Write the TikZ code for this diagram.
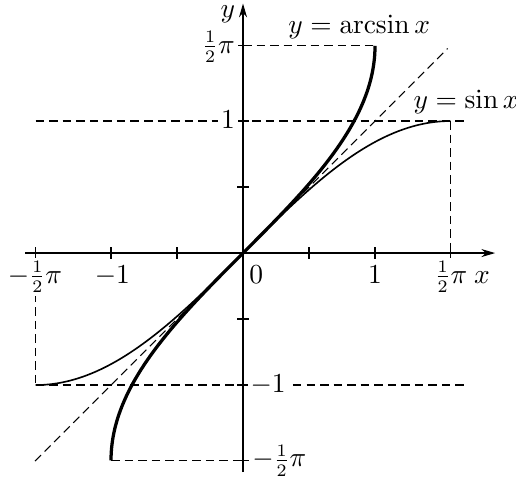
\documentclass[tikz,border=0pt]{standalone}
\usetikzlibrary{arrows.meta}
\begin{document}
\begin{tikzpicture}[x=1.85cm,y=1.85cm,
  axisline/.style={line width=0.5pt},
  dashline/.style={line width=0.45pt,dash pattern=on 3.4pt off 2pt},
  thincurve/.style={line width=0.65pt},
  thickcurve/.style={line width=1.3pt},
  lbl/.style={anchor=base,inner sep=1.2pt,fill=white,font=\fontsize{10.6pt}{12.7pt}\selectfont},
  arrowtip/.style={-{Stealth[length=5.5pt,width=3.2pt]}}]
\useasboundingbox (-1.841,-1.712) rectangle (2.068,1.917);
% key points
\coordinate (O) at (0,0);
\coordinate (xl) at (-1.65,0);
\coordinate (xr) at (1.91,0);
\coordinate (yb) at (0,-1.66);
\coordinate (yt) at (0,1.89);
\coordinate (Ahp) at (0,1.5708);
\coordinate (Atop) at (1,1.5708);
\coordinate (Abot) at (-1,-1.5708);
\coordinate (Amhp) at (0,-1.5708);
\coordinate (S1l) at (-1.5708,1);
\coordinate (S1r) at (1.705,1);
\coordinate (Sm1l) at (-1.5708,-1);
\coordinate (Sm1r) at (1.705,-1);
\coordinate (Stop) at (1.5708,1);
\coordinate (Xhp) at (1.5708,0);
\coordinate (Xmhp) at (-1.5708,0);
\coordinate (Dl) at (-1.576,-1.576);
\coordinate (Dr) at (1.55,1.55);
% dashed guides
\draw[dashline] (Ahp) -- (Atop);
\draw[dashline] (S1l) -- (S1r);
\draw[dashline] (Sm1l) -- (Sm1r);
\draw[dashline] (Stop) -- (Xhp);
\draw[dashline] (Xmhp) -- (Sm1l);
\draw[dashline] (Abot) -- (Amhp);
\draw[dashline] (Dl) -- (Dr);
% axes
\draw[axisline,arrowtip] (xl) -- (xr);
\draw[axisline,arrowtip] (yb) -- (yt);
\foreach \v in {-1.5708,-1,-0.5,0.5,1,1.5708} {
  \draw[axisline] (\v,-0.045) -- (\v,0.045);
  \draw[axisline] (-0.045,\v) -- (0.045,\v);
}
% curves
\draw[thincurve,domain=-1.5708:1.5708,samples=90,smooth] plot (\x,{sin(\x r)});
\draw[thickcurve,domain=-1.5708:1.5708,samples=90,smooth] plot ({sin(\x r)},\x);
% labels
\node[lbl,inner sep=0pt,fill=none] (ylab) at (-0.114,1.785) {$y$};
\node[lbl] (yhp) at (-0.186,1.515) {$\frac{1}{2}\pi$};
\node[lbl] (yone) at (-0.114,0.947) {$1$};
\node[lbl] (ymone) at (0.19,-1.06) {$-1$};
\node[lbl] (ymhp) at (0.275,-1.62) {$-\frac{1}{2}\pi$};
\node[lbl] (xmhp) at (-1.576,-0.227) {$-\frac{1}{2}\pi$};
\node[lbl] (xmone) at (-0.99,-0.227) {$-1$};
\node[lbl] (xzero) at (0.10,-0.227) {$0$};
\node[lbl] (xone) at (1.0,-0.227) {$1$};
\node[lbl] (xhp) at (1.575,-0.227) {$\frac{1}{2}\pi$};
\node[lbl] (xlab) at (1.81,-0.227) {$x$};
\node[lbl] (arcl) at (0.88,1.667) {$y=\arcsin x$};
\node[lbl] (sinl) at (1.69,1.098) {$y=\sin x$};
\end{tikzpicture}
\end{document}
